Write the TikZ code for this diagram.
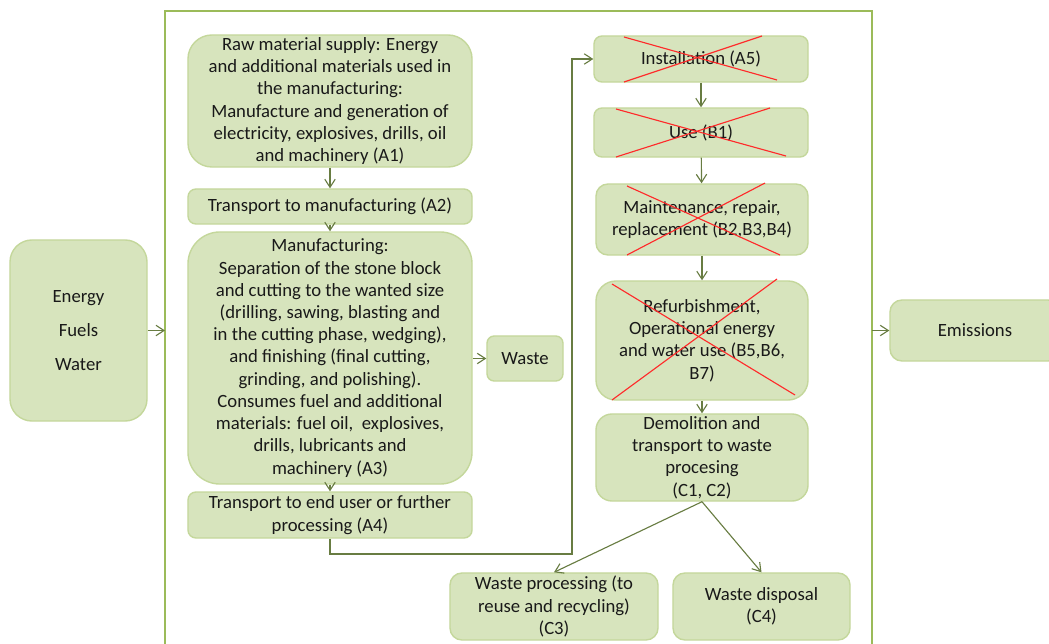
\documentclass[tikz,border=0pt]{standalone}
\usepackage{fontspec}
\setmainfont{Carlito}
\usetikzlibrary{arrows.meta}
\tikzset{>={Straight Barb[length=2mm,width=2.6mm]}}
\definecolor{boxfill}{HTML}{D7E4BD}
\definecolor{boxline}{HTML}{C4D79B}
\definecolor{framegreen}{HTML}{9BBB59}
\definecolor{arrowgreen}{HTML}{687C42}
\definecolor{crossred}{HTML}{FF2A2A}
\tikzset{
  stage/.style={draw=boxline, line width=1pt, fill=boxfill, align=center, inner sep=0pt,
    text=black!90, font=\fontsize{13.3}{15.8}\selectfont},
  flow/.style={draw=arrowgreen, line width=0.8pt, ->},
  strike/.style={draw=crossred, line width=0.8pt},
}

\begin{document}
\begin{tikzpicture}[x=0.025cm, y=-0.025cm]
    \clip (0,0) rectangle (1049,643);
    % system boundary
    \path [draw=framegreen, line width=1.9pt] (165,650) |- (872,11) -- (872,650);
    \coordinate (frameL) at (165,330.5);
    \coordinate (frameR) at (872,330.5);

    % outside
    \node (energy) [stage, rounded corners=0.55cm, minimum width=3.425cm, minimum height=4.525cm] at (78.5,330.5) {Energy\\[0.3cm] Fuels\\[0.3cm] Water};
    \node (emiss) [stage, rounded corners=0.3cm, minimum width=4.25cm, minimum height=1.525cm] at (975,330.5) {Emissions};

    % product stage
    \node (A1) [stage, rounded corners=0.6cm, minimum width=7.1cm, minimum height=3.3cm] at (330,101) {Raw material supply: Energy\\ and additional materials used in\\ the manufacturing:\\ Manufacture and generation of\\ electricity, explosives, drills, oil\\ and machinery (A1)};
    \node (A2) [stage, rounded corners=0.2cm, minimum width=7.1cm, minimum height=0.875cm] at (330,206.5) {Transport to manufacturing (A2)};
    \node (A3) [stage, rounded corners=0.8cm, minimum width=7.1cm, minimum height=6.3cm] at (330,358) {Manufacturing:\\ Separation of the stone block\\ and cutting to the wanted size\\ (drilling, sawing, blasting and\\ in the cutting phase, wedging),\\ and finishing (final cutting,\\ grinding, and polishing).\\ Consumes fuel and additional\\ materials: fuel oil,\ \ explosives,\\ drills, lubricants and\\ machinery (A3)};
    \node (A4) [stage, rounded corners=0.2cm, minimum width=7.1cm, minimum height=1.15cm] at (330,515) {Transport to end user or further\\ processing (A4)};
    \node (waste) [stage, rounded corners=0.18cm, minimum width=1.9cm, minimum height=1.125cm] at (525,358.5) {Waste};

    % use and end of life
    \node (A5) [stage, rounded corners=0.2cm, minimum width=5.35cm, minimum height=1.15cm] at (701,59) {Installation (A5)};
    \node (B1) [stage, rounded corners=0.2cm, minimum width=5.35cm, minimum height=1.225cm] at (701,132.5) {Use (B1)};
    \node (B2) [stage, rounded corners=0.3cm, minimum width=5.3cm, minimum height=1.775cm] at (702,219.5) {Maintenance, repair,\\ replacement (B2,B3,B4)};
    \node (B5) [stage, rounded corners=0.5cm, minimum width=5.3cm, minimum height=2.975cm] at (702,340.5) {Refurbishment,\\ Operational energy\\ and water use (B5,B6,\\ B7)};
    \node (C12) [stage, rounded corners=0.4cm, minimum width=5.3cm, minimum height=2.175cm] at (702,457.5) {Demolition and\\ transport to waste\\ procesing\\ (C1, C2)};
    \node (C3) [stage, rounded corners=0.3cm, minimum width=5.2cm, minimum height=1.675cm] at (554,606.5) {Waste processing (to\\ reuse and recycling)\\ (C3)};
    \node (C4) [stage, rounded corners=0.3cm, minimum width=4.425cm, minimum height=1.675cm] at (761.5,606.5) {Waste disposal\\ (C4)};
    \coordinate (turn) at (572,554);

    % crossed out modules
    \path [strike] (624,37) -- (777,80);
    \path [strike] (624,82) -- (762,36);
    \path [strike] (616,109) -- (786,156);
    \path [strike] (616,157) -- (770,108);
    \path [strike] (627,186) -- (780,255);
    \path [strike] (627,255) -- (765,183);
    \path [strike] (612,284) -- (795,395);
    \path [strike] (612,400) -- (777,279);

    \path [flow] (energy.east) -- (frameL);
    \path [flow] (frameR) -- (emiss.west);
    \path [flow] (A1) -- (A2);
    \path [flow] (A2) -- (A3);
    \path [flow] (A3) -- (A4);
    \path [flow] (A3.east |- waste) -- (waste);
    \path [flow] (A4.south) |- (turn) |- (A5.west);
    \path [flow] (A5) -- (B1);
    \path [flow] (B1) -- (B2);
    \path [flow] (B2) -- (B5);
    \path [flow] (B5) -- (C12);
    \path [flow] (C12.south) -- (C3.north);
    \path [flow] (C12.south) -- (C4.north);
\end{tikzpicture}
\end{document}
